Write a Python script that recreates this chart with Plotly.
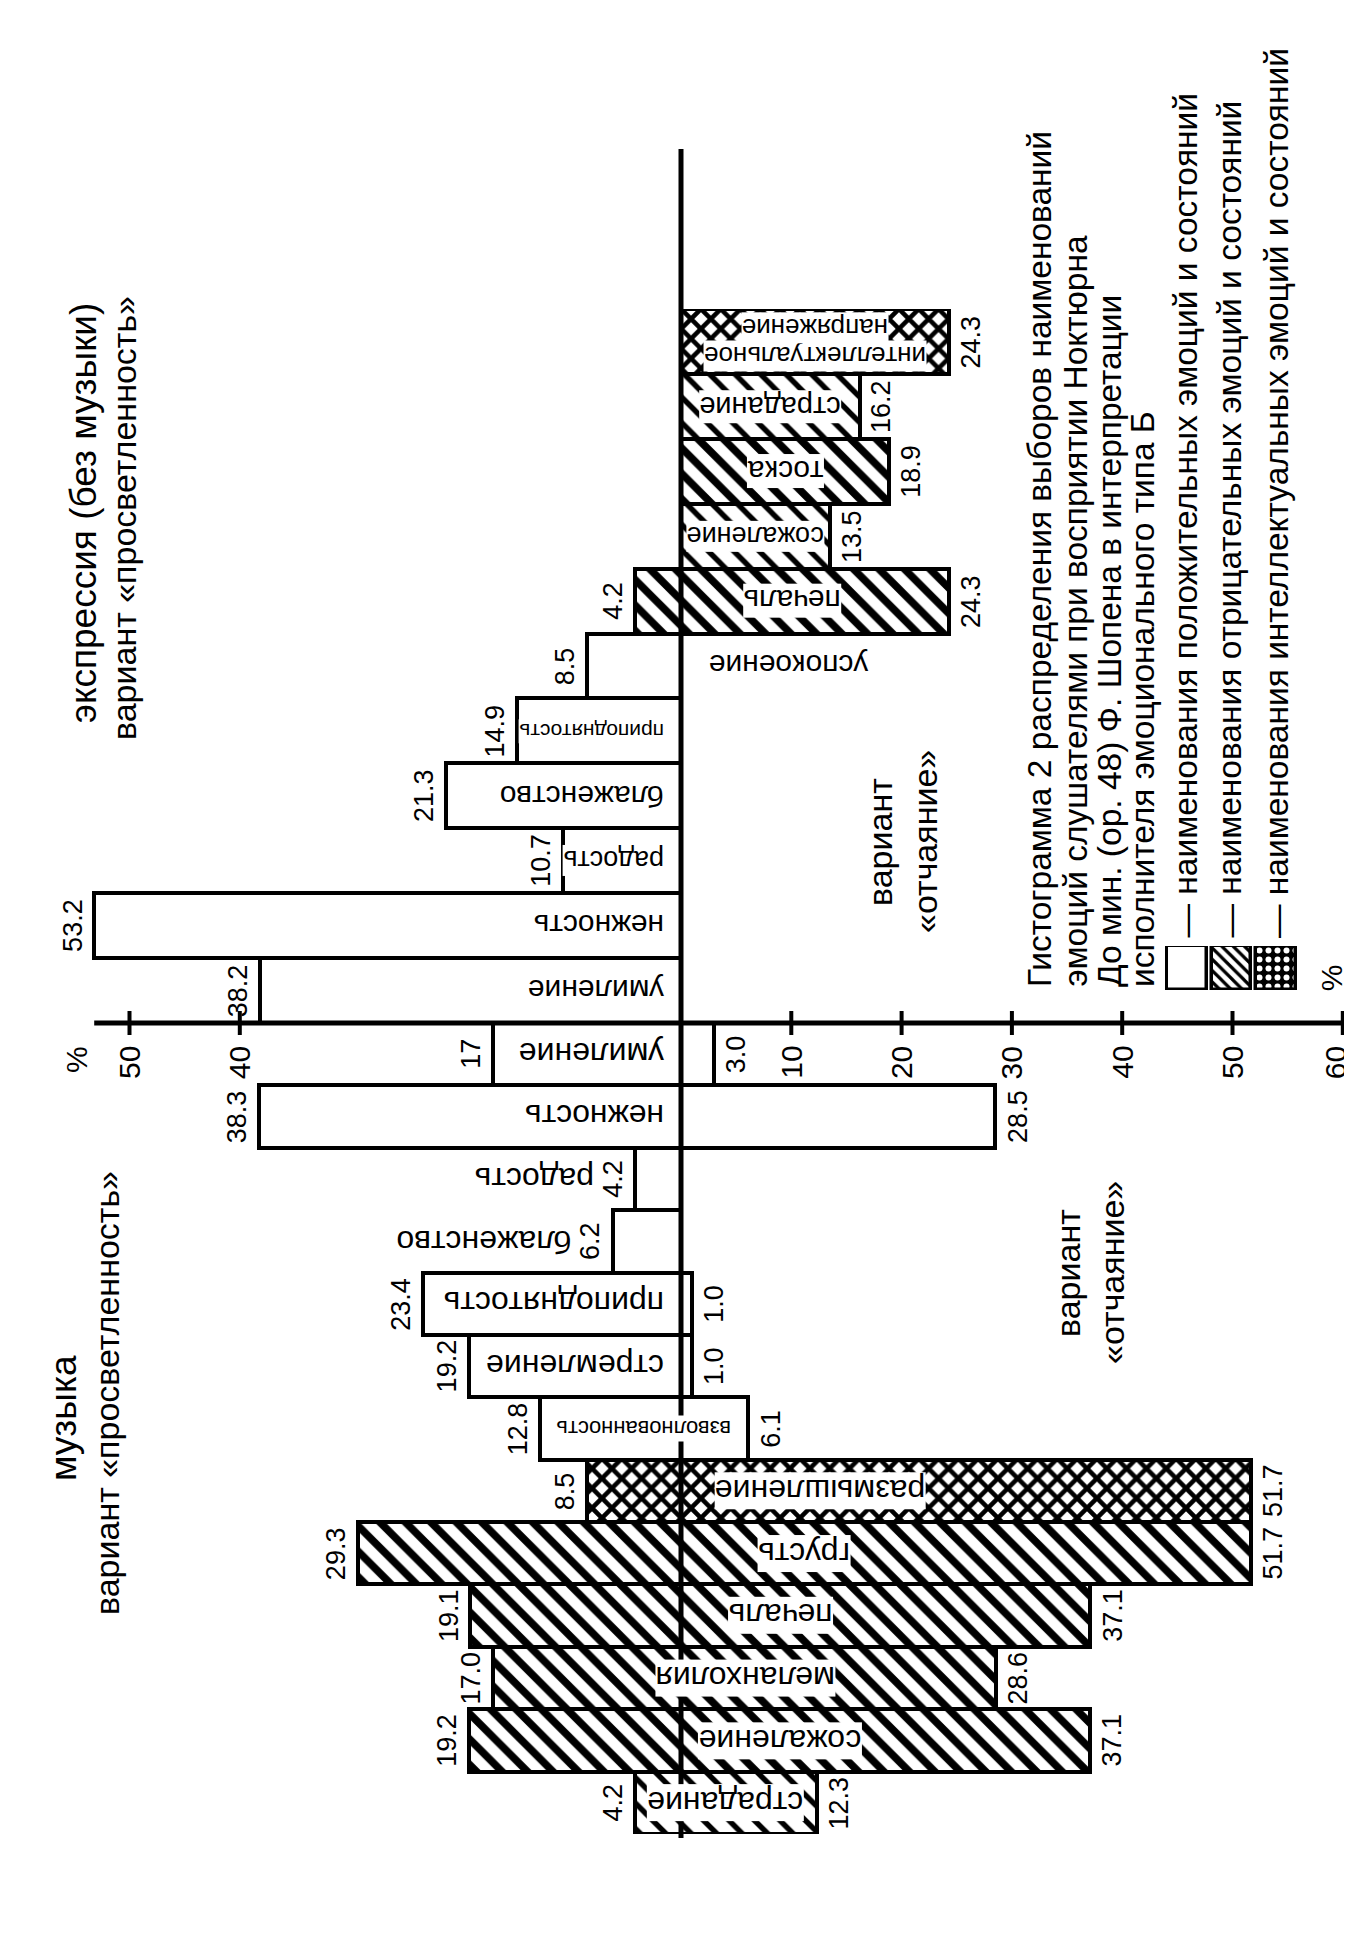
import plotly.graph_objects as go

# ---------------- data ----------------
# section 1: "экспрессия (без музыки)", listed top to bottom
expr_categories = ["интеллектуальное напряжение", "страдание", "тоска", "сожаление", "печаль",
                   "успокоение", "приподнятость", "блаженство", "радость", "нежность", "умиление"]
expr_bright = [None, None, None, None, 4.2, 8.5, 14.9, 21.3, 10.7, 53.2, 38.2]      # вариант «просветленность»
expr_despair = [24.3, 16.2, 18.9, 13.5, 24.3, None, None, None, None, None, None]  # вариант «отчаяние»
expr_group = ["int", "neg_light", "neg", "neg_light", "neg", "pos", "pos", "pos", "pos", "pos", "pos"]

# section 2: "музыка", listed top to bottom
music_categories = ["умиление", "нежность", "радость", "блаженство", "приподнятость", "стремление",
                    "взволнованность", "размышление", "грусть", "печаль", "меланхолия", "сожаление",
                    "страдание"]
music_bright = [17, 38.3, 4.2, 6.2, 23.4, 19.2, 12.8, 8.5, 29.3, 19.1, 17.0, 19.2, 4.2]
music_despair = [3.0, 28.5, None, None, 1.0, 1.0, 6.1, 51.7, 51.7, 37.1, 28.6, 37.1, 12.3]
music_group = ["pos", "pos", "pos", "pos", "pos", "pos", "pos", "int", "neg", "neg", "neg", "neg",
               "neg_light"]

ticks_bright = [40, 50]
ticks_despair = [10, 20, 30, 40, 50, 60]

title_lines = ["Гистограмма 2 распределения выборов наименований",
               "эмоций слушателями при восприятии Ноктюрна",
               "До мин. (ор. 48) Ф. Шопена в интерпретации",
               "исполнителя эмоционального типа Б"]
legend_groups = ["pos", "neg", "int"]
legend_texts = ["— наименования положительных эмоций и состояний",
                "— наименования отрицательных эмоций и состояний",
                "— наименования интеллектуальных эмоций и состояний"]

# ---------------- styles / layout ----------------
W, H = 1352, 1952
X0, PX = 673, 11.03                 # pixel of the zero line, pixels per percent
EXPR_TOP, SPLIT, MUSIC_BOTTOM = 301, 1015, 1826
AXIS_TOP, AXIS_BOTTOM = 141, 1830
FONT = "Liberation Sans, Arial, sans-serif"

PATTERN = {
    "pos": dict(shape="", solidity=0.3, size=18, fg="black", bg="white"),
    "neg": dict(shape="\\", solidity=0.42, size=18, fg="black", bg="white"),
    "neg_light": dict(shape="\\", solidity=0.3, size=18, fg="black", bg="white"),
    "int": dict(shape="x", solidity=0.55, size=14, fg="black", bg="white"),
}
LEGEND_PATTERN = {
    "pos": dict(shape="", solidity=0.3, size=8, fg="black", bg="white"),
    "neg": dict(shape="\\", solidity=0.4, size=8, fg="black", bg="white"),
    "int": dict(shape=".", solidity=0.35, size=9, fg="white", bg="black"),
}
expr_label_mode = ["center", "center", "center", "center", "center", "right",
                   "axis", "axis", "axis", "axis", "axis"]
music_label_mode = ["axis", "axis", "outside", "outside", "axis", "axis", "center", "start",
                    "center", "center", "center", "center", "center"]
expr_label_size = {"интеллектуальное напряжение": 26, "приподнятость": 21, "радость": 27,
                   "сожаление": 27, "страдание": 29}
music_label_size = {"взволнованность": 22}
VALUE_SIZE, TICK_SIZE, CAPTION_SIZE = 27, 30, 33.5


def px(x):
    return x / W


def py(y):
    return 1 - y / H


def pattern_of(groups, table):
    return dict(shape=[table[g]["shape"] for g in groups],
                solidity=[table[g]["solidity"] for g in groups],
                size=[table[g]["size"] for g in groups],
                fgcolor=[table[g]["fg"] for g in groups],
                bgcolor=[table[g]["bg"] for g in groups],
                fillmode="replace")


fig = go.Figure()
annotations = []


def add_section(cats, bright, despair, groups, modes, sizes, yaxis, base_size):
    for values, sign in ((bright, -1), (despair, 1)):
        xs = [sign * v if v is not None else None for v in values]
        fig.add_trace(go.Bar(
            orientation="h", x=xs, y=cats, xaxis="x", yaxis=yaxis, width=1,
            marker=dict(color="white", line=dict(color="black", width=4),
                        pattern=pattern_of(groups, PATTERN)),
            showlegend=False, hoverinfo="skip"))
    for cat, b, d, mode in zip(cats, bright, despair, modes):
        b0 = b or 0
        d0 = d or 0
        if mode == "center":
            x, xa = (d0 - b0) / 2, "center"
        elif mode == "axis":
            x, xa = -1.4, "right"
        elif mode == "outside":
            x, xa = -b0 - 3.6, "right"
        elif mode == "right":
            x, xa = 2.5, "left"
        else:  # start
            x, xa = 3.0, "left"
        size = sizes.get(cat, base_size)
        lines = cat.split(" ")
        for k, line in enumerate(lines):
            # upside-down text: the first line ends up lowest
            shift = (k - (len(lines) - 1) / 2) * size * 1.08
            annotations.append(dict(
                text=line, x=x, y=cat, xref="x", yref=yaxis, yshift=shift,
                xanchor=xa, yanchor="middle", textangle=180, showarrow=False,
                bgcolor="white", borderpad=0,
                font=dict(family=FONT, size=size, color="black")))
        if b is not None:
            annotations.append(dict(
                text=str(b), x=-b - 0.45, y=cat, xref="x", yref=yaxis, xanchor="right",
                yanchor="middle", textangle=-90, showarrow=False,
                font=dict(family=FONT, size=VALUE_SIZE, color="black")))
        if d is not None:
            annotations.append(dict(
                text=str(d), x=d + 0.45, y=cat, xref="x", yref=yaxis, xanchor="left",
                yanchor="middle", textangle=-90, showarrow=False,
                font=dict(family=FONT, size=VALUE_SIZE, color="black")))


add_section(expr_categories, expr_bright, expr_despair, expr_group, expr_label_mode,
            expr_label_size, "y", 30)
add_section(music_categories, music_bright, music_despair, music_group, music_label_mode,
            music_label_size, "y2", 32)

# legend swatches
fig.add_trace(go.Bar(
    x=legend_groups, y=[1, 1, 1], xaxis="x3", yaxis="y3", width=0.9,
    marker=dict(color="white", line=dict(color="black", width=3.5),
                pattern=pattern_of(legend_groups, LEGEND_PATTERN)),
    showlegend=False, hoverinfo="skip"))

shapes = []
# central (zero) axis
shapes.append(dict(type="line", xref="x", yref="paper", x0=0, x1=0,
                   y0=py(AXIS_BOTTOM), y1=py(AXIS_TOP), line=dict(color="black", width=5),
                   layer="above"))
# percent scale axis
all_bright = [v for v in expr_bright + music_bright if v is not None]
shapes.append(dict(type="line", xref="x", yref="paper", x0=-max(all_bright),
                   x1=max(ticks_despair), y0=py(SPLIT), y1=py(SPLIT),
                   line=dict(color="black", width=5), layer="above"))
tick_positions = [-t for t in ticks_bright] + ticks_despair
tick_labels = [str(t) for t in ticks_bright] + [str(t) for t in ticks_despair]
for tx, tl in zip(tick_positions, tick_labels):
    shapes.append(dict(type="line", xref="x", yref="paper", x0=tx, x1=tx,
                       ysizemode="pixel", yanchor=py(SPLIT), y0=-12, y1=12,
                       line=dict(color="black", width=4), layer="above"))
    annotations.append(dict(text=tl, x=tx, y=py(SPLIT + 21), xref="x", yref="paper",
                            xanchor="center", yanchor="top", textangle=-90, showarrow=False,
                            xshift=-7 if tx == max(tick_positions) else 0,
                            font=dict(family=FONT, size=TICK_SIZE, color="black")))
annotations.append(dict(text="%", x=-(max(ticks_bright) + 4.8), y=py(SPLIT + 21), xref="x",
                        yref="paper", xanchor="center", yanchor="top", textangle=-90,
                        showarrow=False, font=dict(family=FONT, size=TICK_SIZE, color="black")))
annotations.append(dict(text="%", x=max(ticks_despair) - 1.0, y=py(SPLIT - 30), xref="x",
                        yref="paper", xanchor="center", yanchor="bottom", textangle=-90,
                        showarrow=False, font=dict(family=FONT, size=TICK_SIZE, color="black")))


def paper_text(text, x, y, size, xa="center", ya="middle"):
    annotations.append(dict(text=text, x=px(x), y=py(y), xref="paper", yref="paper",
                            xanchor=xa, yanchor=ya, textangle=-90, showarrow=False,
                            font=dict(family=FONT, size=size, color="black")))


# section titles
paper_text("экспрессия (без музыки)", 75, 505, 37)
paper_text("вариант «просветленность»", 116, 510, 34)
paper_text("музыка", 55, 1410, 37)
paper_text("вариант «просветленность»", 99, 1385, 34)
paper_text("вариант", 872, 834, 34)
paper_text("«отчаяние»", 917, 834, 34)
paper_text("вариант", 1060, 1265, 34)
paper_text("«отчаяние»", 1104, 1265, 34)

# caption and legend texts
for xc, line in zip([1031, 1067, 1101, 1134], title_lines):
    paper_text(line, xc, 981, CAPTION_SIZE, ya="bottom")
for xc, line in zip([1177, 1221, 1268], legend_texts):
    paper_text(line, xc, 932, CAPTION_SIZE, ya="bottom")

fig.update_layout(
    width=W, height=H, autosize=False, margin=dict(l=0, r=0, t=0, b=0),
    paper_bgcolor="white", plot_bgcolor="white", barmode="overlay", bargap=0,
    showlegend=False, shapes=shapes, annotations=annotations,
    xaxis=dict(range=[-X0 / PX, (W - X0) / PX], domain=[0, 1], anchor="y", visible=False,
               fixedrange=True),
    yaxis=dict(type="category", categoryorder="array", categoryarray=expr_categories,
               range=[len(expr_categories) - 0.5, -0.5],
               domain=[py(SPLIT), py(EXPR_TOP)], anchor="x", visible=False, fixedrange=True),
    yaxis2=dict(type="category", categoryorder="array", categoryarray=music_categories,
                range=[len(music_categories) - 0.5, -0.5],
                domain=[py(MUSIC_BOTTOM), py(SPLIT)], anchor="x", visible=False,
                fixedrange=True),
    xaxis3=dict(type="category", categoryorder="array", categoryarray=legend_groups,
                range=[-0.5, 2.5], domain=[px(1157), px(1290)], anchor="y3", visible=False,
                fixedrange=True),
    yaxis3=dict(range=[0, 1], domain=[py(982), py(938)], anchor="x3", visible=False,
                fixedrange=True),
)

fig.write_html("out.html")
